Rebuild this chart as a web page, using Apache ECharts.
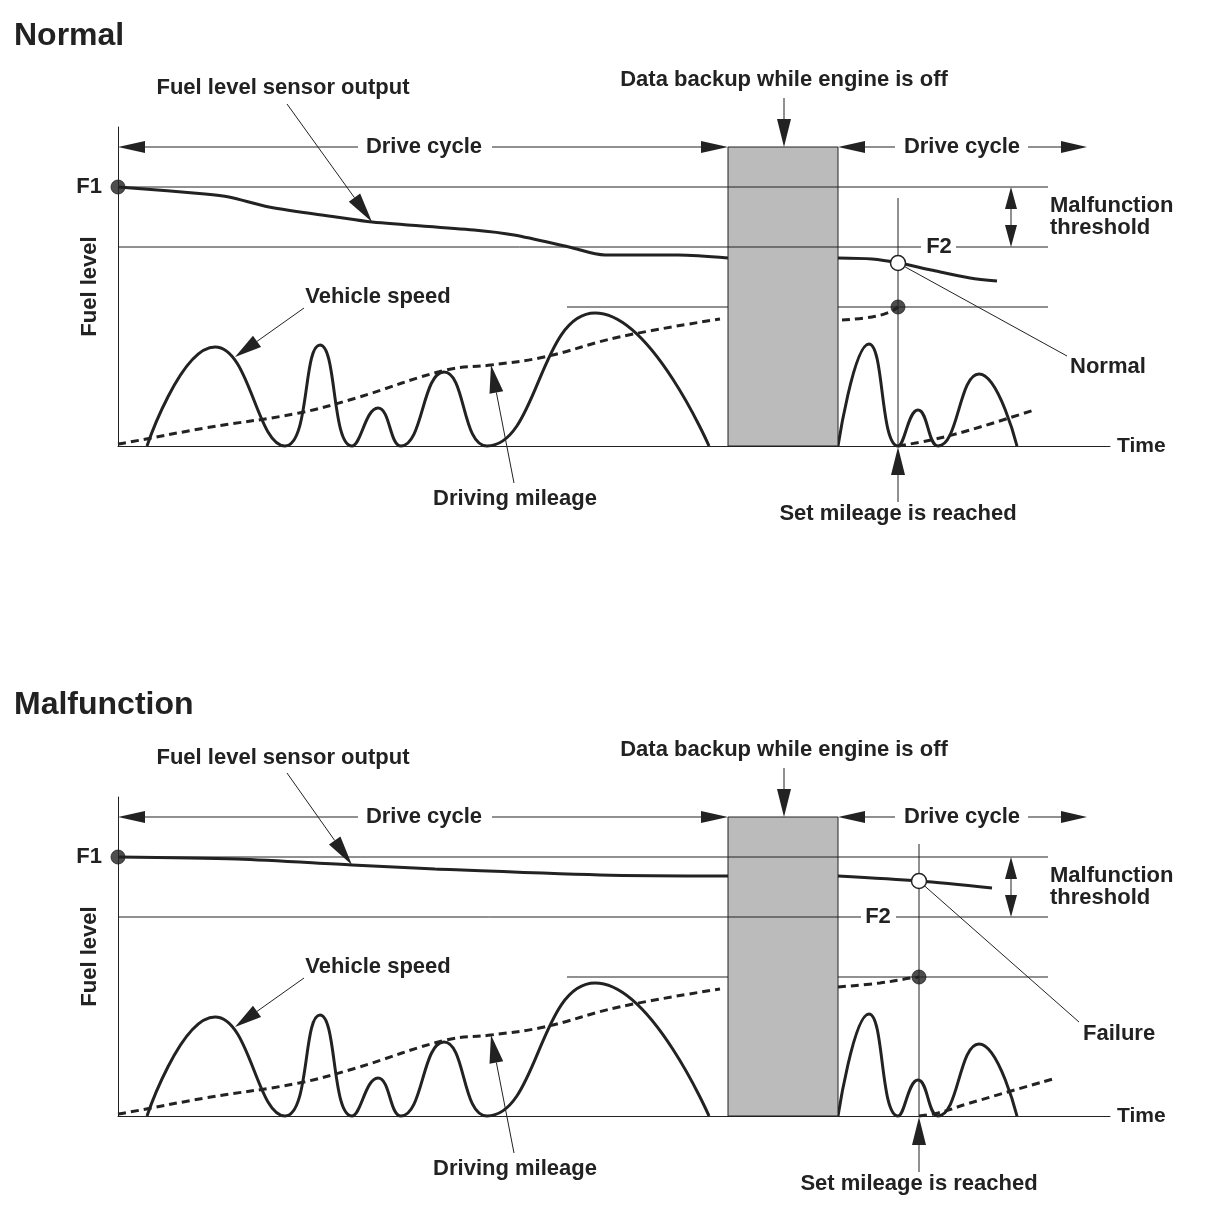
<!DOCTYPE html>
<html>
<head>
<meta charset="utf-8">
<script src="https://cdn.jsdelivr.net/npm/echarts@6/dist/echarts.min.js"></script>
<style>
html,body{margin:0;padding:0;background:#ffffff;}
#chart{width:1210px;height:1212px;}
</style>
</head>
<body>
<div id="chart"></div>
<script>
// ---------------- data (axis units: time along x, level along y) ----------------
const panelTitles = ['Normal', 'Malfunction'];
const statusLabels = ['Normal', 'Failure'];
const levelF1 = 259;          // initial fuel level F1
const levelF2 = 199;          // F1 minus malfunction threshold
const levelSetMileage = 139;  // set mileage level
const cycleLevel = 299;       // drive-cycle marker level / backup window top
const backupStart = 610;      // engine off
const backupEnd = 720;        // engine on again
const refLineEnd = 930;
const setMileageX = [780, 801];

const fuelBeforeNormal = [[0,259],[87,252],[111,249],[151,239],[218,229],[254,224],[356,216],[396,211],[451,199],[487,191],[560,191],[610,188]];
const fuelAfterNormal = [[720,188],[754,187],[781,183],[813,176],[852,168],[879,165]];
const fuelBeforeFailure = [[0,259],[119,257],[234,251],[317,247],[482,241],[610,240]];
const fuelAfterFailure = [[720,240],[801,235],[874,228]];

// vehicle speed: stops (0) and speed peaks
const speedBefore = [[29,0],[97,99],[167,0],[202,101],[234,0],[260,38],[283,0],[326,74],[369,0],[477,133],[591,0]];
const speedAfter = [[720,0],[751,102],[780,0],[800,36],[820,0],[861,72],[899,0]];

const mileageBefore = [[0,2],[12,4],[87,18],[181,33],[238,48],[328,76],[373,81],[426,89],[501,109],[602,127]];
const mileageAfterNormal = [[724,126],[754,129],[772,134],[780,139]];
const mileageResetNormal = [[780,0],[813,6],[852,16],[916,36]];
const mileageAfterFailure = [[720,129],[762,133],[793,138],[801,139]];
const mileageResetFailure = [[801,0],[820,3],[852,13],[935,37]];

// annotation placement per panel (axis units)
const notes = [
  { setX: 780, circleY: 183, vTop: 248, f2Label: 821, f2Gap: [803, 838],
    fuelLeader: [[169,342],[254,224]], statusLeader: [[780,183],[949,90]], statusPos: [952,79] },
  { setX: 801, circleY: 235, vTop: 272, f2Label: 760, f2Gap: [743, 778],
    fuelLeader: [[169,343],[234,251]], statusLeader: [[801,235],[961,94]], statusPos: [965,82] }
];

// ---------------- rendering ----------------
const FONT = '"Liberation Sans", Arial, Helvetica, sans-serif';
const INK = '#222222';
const TXT = 'bold 22px ' + FONT;

function annotationChildren(api, k) {
  const n = notes[k];
  const P = p => api.coord(p);
  const out = [];
  const line = (a, b) => {
    const p = P(a), q = P(b);
    out.push({type:'line', shape:{x1:p[0],y1:p[1],x2:q[0],y2:q[1]}, style:{stroke:INK,lineWidth:1}});
  };
  const arrow = (a, b, len, hw) => {
    const p = P(a), q = P(b);
    const dx = q[0]-p[0], dy = q[1]-p[1], L = Math.hypot(dx, dy) || 1;
    const ux = dx/L, uy = dy/L;
    const bx = q[0]-ux*len, by = q[1]-uy*len;
    out.push({type:'line', shape:{x1:p[0],y1:p[1],x2:bx,y2:by}, style:{stroke:INK,lineWidth:1}});
    out.push({type:'polygon', shape:{points:[[q[0],q[1]],[bx-uy*hw,by+ux*hw],[bx+uy*hw,by-ux*hw]]}, style:{fill:INK}});
  };
  const text = (p, s, align) => {
    const c = P(p);
    out.push({type:'text', x:c[0], y:c[1], style:{text:s, fill:INK, font:TXT, align:align||'center', verticalAlign:'middle'}});
  };
  // drive cycle markers
  arrow([240,cycleLevel],[0,cycleLevel],27,6);
  arrow([374,cycleLevel],[backupStart,cycleLevel],27,6);
  text([306,cycleLevel],'Drive cycle');
  arrow([777,cycleLevel],[backupEnd,cycleLevel],27,6);
  arrow([910,cycleLevel],[969,cycleLevel],26,6);
  text([844,cycleLevel],'Drive cycle');
  // data backup
  arrow([666,348],[666,cycleLevel],28,7);
  text([666,366],'Data backup while engine is off');
  // fuel level sensor output
  arrow(n.fuelLeader[0], n.fuelLeader[1], 30, 7);
  text([165,358],'Fuel level sensor output');
  // vehicle speed
  arrow([186,138],[117,89],27,7);
  text([260,149],'Vehicle speed');
  // driving mileage
  arrow([396,-37],[373,81],28,7);
  text([397,-53],'Driving mileage');
  // set mileage
  arrow([n.setX,-56],[n.setX,-1],28,7);
  text([n.setX,-68],'Set mileage is reached');
  // malfunction threshold
  arrow([893,229],[893,levelF1],22,6);
  arrow([893,229],[893,levelF2],22,6);
  text([932,240],'Malfunction','left');
  text([932,218],'threshold','left');
  // F labels
  text([-16,levelF1],'F1','right');
  text([n.f2Label,levelF2],'F2');
  // status
  line(n.statusLeader[0], n.statusLeader[1]);
  text(n.statusPos, statusLabels[k], 'left');
  return out;
}

function panelSeries(k) {
  const n = notes[k];
  const base = {xAxisIndex:k, yAxisIndex:k, silent:true, clip:false};
  const curve = (data, extra) => Object.assign({}, base, {
    type:'line', data:data, symbol:'none', smooth:0.5, z:2,
    lineStyle:{color:INK, width:3}
  }, extra || {});
  const thin = (data, z) => Object.assign({}, base, {
    type:'line', data:data, symbol:'none', z:z, lineStyle:{color:INK, width:1}
  });
  const dashed = {smooth:0.4, lineStyle:{color:INK, width:3, type:[8,5]}};
  const fuelB = k === 0 ? fuelBeforeNormal : fuelBeforeFailure;
  const fuelA = k === 0 ? fuelAfterNormal : fuelAfterFailure;
  const milA = k === 0 ? mileageAfterNormal : mileageAfterFailure;
  const milR = k === 0 ? mileageResetNormal : mileageResetFailure;
  return [
    thin([[449,levelSetMileage],[refLineEnd,levelSetMileage]], 1),
    Object.assign({}, base, {
      type:'custom', z:3, data:[[backupStart,0]],
      renderItem:(params, api) => {
        const a = api.coord([backupStart, cycleLevel]);
        const b = api.coord([backupEnd, 0]);
        return {type:'rect', shape:{x:a[0], y:a[1], width:b[0]-a[0], height:b[1]-a[1]},
                style:{fill:'#bbbbbb', stroke:INK, lineWidth:1}};
      }
    }),
    thin([[0,levelF1],[refLineEnd,levelF1]], 4),
    thin([[0,levelF2],[n.f2Gap[0],levelF2],[(n.f2Gap[0]+n.f2Gap[1])/2,'-'],[n.f2Gap[1],levelF2],[refLineEnd,levelF2]], 4),
    thin([[n.setX,0],[n.setX,n.vTop]], 4),
    curve(fuelB, {smooth:0.3}),
    curve(fuelA, {smooth:0.3}),
    curve(speedBefore),
    curve(speedAfter),
    curve(mileageBefore, dashed),
    curve(milA, dashed),
    curve(milR, dashed),
    Object.assign({}, base, {
      type:'custom', z:5, data:[[0,0]],
      renderItem:(params, api) => ({type:'group', children: annotationChildren(api, k)})
    }),
    Object.assign({}, base, {
      type:'scatter', z:6, symbolSize:14,
      data:[[0,levelF1],[n.setX,levelSetMileage]],
      itemStyle:{color:INK, borderColor:INK, borderWidth:1}
    }),
    Object.assign({}, base, {
      type:'scatter', z:6, symbolSize:15,
      data:[[n.setX,n.circleY]],
      itemStyle:{color:'#ffffff', borderColor:INK, borderWidth:1.5, opacity:1}
    })
  ];
}

const nameStyle = {fontFamily:FONT, fontWeight:'bold', fontSize:21, color:INK};
const xAxes = [0,1].map(k => ({
  type:'value', gridIndex:k, min:0, max:992,
  axisLine:{show:true, lineStyle:{color:INK, width:1}},
  axisTick:{show:false}, axisLabel:{show:false}, splitLine:{show:false},
  name:'Time', nameLocation:'end', nameGap:7, nameTextStyle:nameStyle
}));
const yAxes = [0,1].map(k => ({
  type:'value', gridIndex:k, min:0, max:319,
  axisLine:{show:true, lineStyle:{color:INK, width:1}},
  axisTick:{show:false}, axisLabel:{show:false}, splitLine:{show:false},
  name:'Fuel level', nameLocation:'middle', nameRotate:90, nameGap:17,
  nameTextStyle:Object.assign({}, nameStyle, {fontSize:22})
}));

const chart = echarts.init(document.getElementById('chart'), null, {renderer:'canvas'});
chart.setOption({
  backgroundColor:'#ffffff',
  animation:false,
  title: panelTitles.map((t, k) => ({
    text:t, left:9, top: k === 0 ? 15 : 684,
    textStyle:{fontFamily:FONT, fontWeight:'bold', fontSize:32, color:INK}
  })),
  grid:[
    {left:118, top:127, width:992, height:319, containLabel:false, outerBoundsMode:'none'},
    {left:118, top:797, width:992, height:319, containLabel:false, outerBoundsMode:'none'}
  ],
  xAxis:xAxes,
  yAxis:yAxes,
  series: panelSeries(0).concat(panelSeries(1))
});
</script>
</body>
</html>
